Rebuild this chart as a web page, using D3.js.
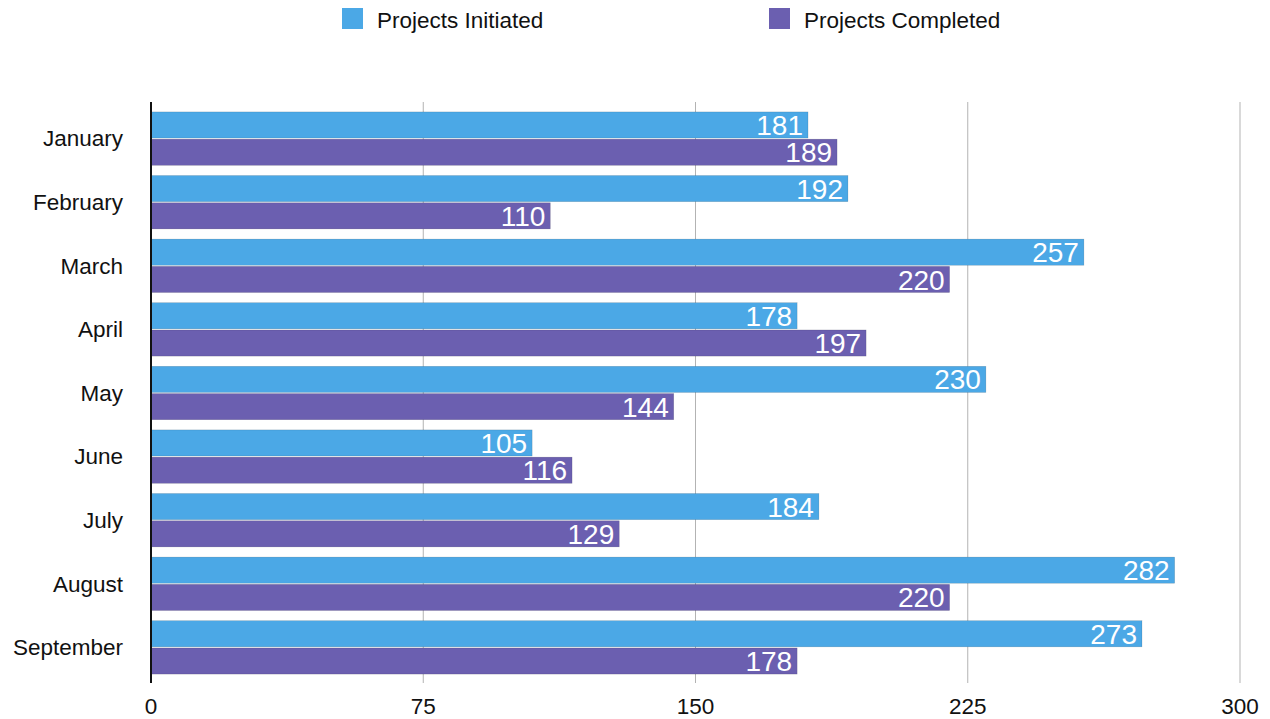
<!DOCTYPE html>
<html>
<head>
<meta charset="utf-8">
<script src="https://d3js.org/d3.v7.min.js"></script>
<style>
  body { margin: 0; background: #fff; }
  text { font-family: "Liberation Sans", Arial, sans-serif; }
</style>
</head>
<body>
<div id="chart"></div>
<script>
const months = ["January", "February", "March", "April", "May", "June", "July", "August", "September"];
const initiated = [181, 192, 257, 178, 230, 105, 184, 282, 273];
const completed = [189, 110, 220, 197, 144, 116, 129, 220, 178];
const seriesNames = ["Projects Initiated", "Projects Completed"];
const ticks = [0, 75, 150, 225, 300];

const width = 1270, height = 719;
const colors = ["#4ba8e6", "#6b5fb0"];

const svg = d3.select("#chart").append("svg")
  .attr("width", width)
  .attr("height", height);

const x = d3.scaleLinear().domain([0, 300]).range([151, 1240]);
const y = d3.scaleBand().domain(months).range([103, 683])
  .paddingInner(0.16).paddingOuter(0.14);
const sub = d3.scaleBand().domain([0, 1]).range([0, y.bandwidth()]).paddingInner(0.04);

// gridlines
svg.append("g")
  .selectAll("line")
  .data(ticks.slice(1))
  .enter().append("line")
  .attr("x1", d => x(d)).attr("x2", d => x(d))
  .attr("y1", 102).attr("y2", 683)
  .attr("stroke", "#b3b3b3")
  .attr("stroke-width", 1);

// tick labels
svg.append("g")
  .selectAll("text")
  .data(ticks)
  .enter().append("text")
  .attr("x", d => x(d))
  .attr("y", 714)
  .attr("text-anchor", "middle")
  .attr("font-size", "22.5px")
  .attr("fill", "#111")
  .text(d => d);

const table = months.map((m, i) => ({ month: m, values: [initiated[i], completed[i]] }));

const groups = svg.append("g").selectAll("g")
  .data(table)
  .enter().append("g")
  .attr("transform", d => `translate(0,${y(d.month)})`);

groups.selectAll("rect")
  .data(d => d.values.map((v, k) => ({ v, k })))
  .enter().append("rect")
  .attr("x", x(0))
  .attr("y", d => sub(d.k))
  .attr("width", d => x(d.v) - x(0))
  .attr("height", sub.bandwidth())
  .attr("fill", d => colors[d.k])
  .attr("stroke", "rgba(0,0,0,0.18)")
  .attr("stroke-width", 0.6);

groups.selectAll("text")
  .data(d => d.values.map((v, k) => ({ v, k })))
  .enter().append("text")
  .attr("x", d => x(d.v) - 5)
  .attr("y", d => sub(d.k) + sub.bandwidth() / 2)
  .attr("dy", "0.36em")
  .attr("text-anchor", "end")
  .attr("font-size", "28px")
  .attr("fill", "#fff")
  .text(d => d.v);

// category labels
svg.append("g")
  .selectAll("text")
  .data(months)
  .enter().append("text")
  .attr("x", 123)
  .attr("y", d => y(d) + y.bandwidth() / 2)
  .attr("dy", "0.35em")
  .attr("text-anchor", "end")
  .attr("font-size", "22.5px")
  .attr("fill", "#111")
  .text(d => d);

// axis line at 0
svg.append("line")
  .attr("x1", x(0)).attr("x2", x(0))
  .attr("y1", 102).attr("y2", 683)
  .attr("stroke", "#111")
  .attr("stroke-width", 2);

// legend
const legendX = [342, 769];
const legend = svg.append("g").selectAll("g")
  .data(seriesNames)
  .enter().append("g")
  .attr("transform", (d, i) => `translate(${legendX[i]},8)`);
legend.append("rect")
  .attr("width", 21).attr("height", 21)
  .attr("fill", (d, i) => colors[i]);
legend.append("text")
  .attr("x", 35).attr("y", 12)
  .attr("dy", "0.35em")
  .attr("font-size", "22.5px")
  .attr("fill", "#111")
  .text(d => d);
</script>
</body>
</html>
